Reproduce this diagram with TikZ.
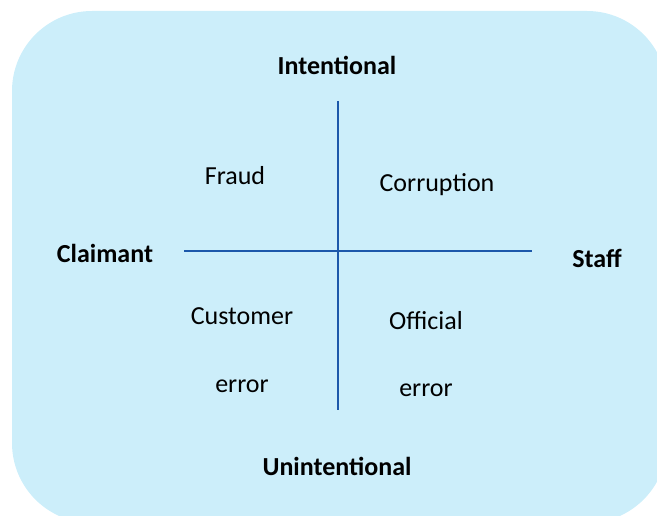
\documentclass[tikz,border=0pt]{standalone}
\usepackage{fontspec}
\setmainfont{Carlito}
\definecolor{bgblue}{RGB}{204,238,250}
\definecolor{axisblue}{RGB}{28,88,170}
\begin{document}
\begin{tikzpicture}[x=1pt,y=-1pt,
  lbl/.style={font=\fontsize{26}{30}\selectfont, inner sep=0pt, anchor=center},
  blbl/.style={font=\fontsize{26}{30}\selectfont\bfseries, inner sep=0pt, anchor=center},
  axis/.style={draw=axisblue, line width=2.5pt}]
\useasboundingbox (0,0) rectangle (657,516);
\clip (0,0) rectangle (657,516);
\fill[bgblue, rounded corners=80pt] (12,11) rectangle (667,523);
\coordinate (hl) at (184,251);
\coordinate (hr) at (532,251);
\coordinate (vt) at (338,101);
\coordinate (vb) at (338,410);
\draw[axis] (hl) -- (hr);
\draw[axis] (vt) -- (vb);
\node[blbl] (intent) at (337,65) {Intentional};
\node[blbl] (unintent) at (337,466) {Unintentional};
\node[blbl] (claimant) at (105,253) {Claimant};
\node[blbl] (staff) at (597,258) {Staff};
\node[lbl] (fraud) at (235,176) {Fraud};
\node[lbl] (corr) at (437,185) {Corruption};
\node[lbl] (cust) at (242,316) {Customer};
\node[lbl] (err1) at (242,386) {error};
\node[lbl] (off) at (426,321) {Official};
\node[lbl] (err2) at (426,390) {error};
\end{tikzpicture}
\end{document}
